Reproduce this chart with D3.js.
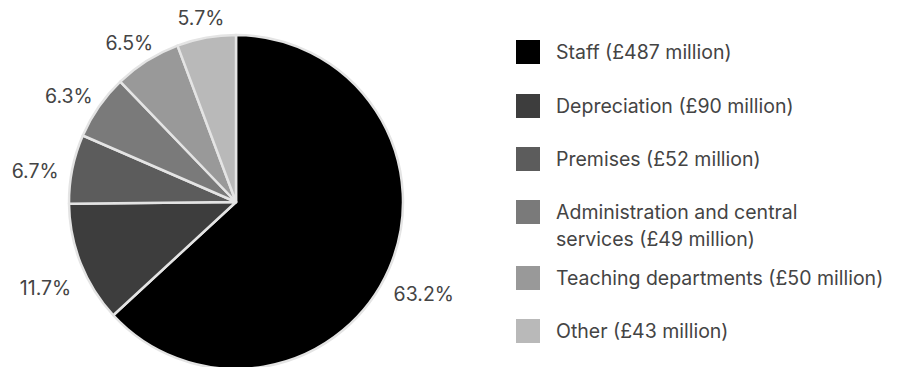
<!DOCTYPE html>
<html>
<head>
<meta charset="utf-8">
<script src="https://cdn.jsdelivr.net/npm/d3@7"></script>
<style>
  body { margin: 0; background: #fff; }
  text { font-family: Inter, "Liberation Sans", sans-serif; fill: #444; }
</style>
</head>
<body>
<svg id="chart" width="905" height="367"></svg>
<script>
  // data
  const categories = ["Staff", "Depreciation", "Premises", "Administration and central services", "Teaching departments", "Other"];
  const legendLines = [
    ["Staff (£487 million)"],
    ["Depreciation (£90 million)"],
    ["Premises (£52 million)"],
    ["Administration and central", "services (£49 million)"],
    ["Teaching departments (£50 million)"],
    ["Other (£43 million)"]
  ];
  const amounts = [487, 90, 52, 49, 50, 43];
  const percents = [63.2, 11.7, 6.7, 6.3, 6.5, 5.7];
  const colors = ["#000000", "#3d3d3d", "#5c5c5c", "#7a7a7a", "#999999", "#b9b9b9"];

  const svg = d3.select("#chart");
  const cx = 236, cy = 202, R = 167;

  const color = d3.scaleOrdinal().domain(categories).range(colors);

  const pie = d3.pie().sort(null).value((d, i) => percents[i]);
  const arcs = pie(categories);
  const arc = d3.arc().innerRadius(0).outerRadius(R);

  const g = svg.append("g").attr("transform", `translate(${cx},${cy})`);

  g.selectAll("path")
    .data(arcs)
    .join("path")
    .attr("d", arc)
    .attr("fill", d => color(d.data))
    .attr("stroke", "#e4e4e4")
    .attr("stroke-width", 2.5)
    .attr("stroke-linejoin", "round");

  // percentage labels outside the pie (a bit closer near the top)
  g.selectAll(".pct")
    .data(arcs)
    .join("text")
    .attr("class", "pct")
    .attr("font-size", 19.5)
    .attr("text-anchor", "middle")
    .attr("dominant-baseline", "central")
    .attr("transform", d => {
      const a = (d.startAngle + d.endAngle) / 2;
      const c = Math.cos(a);
      const r = 205 - 8 * Math.pow(Math.max(0, c), 3);
      return `translate(${r * Math.sin(a)},${-r * c + 10})`;
    })
    .text(d => percents[d.index].toFixed(1) + "%");

  // legend
  const legendY = [40, 94, 147, 200, 266, 319];
  const legend = svg.append("g").attr("transform", "translate(516,0)");

  const items = legend.selectAll("g")
    .data(categories)
    .join("g")
    .attr("transform", (d, i) => `translate(0,${legendY[i]})`);

  items.append("rect")
    .attr("width", 24)
    .attr("height", 24)
    .attr("fill", d => color(d));

  items.append("text")
    .attr("font-size", 19.5)
    .selectAll("tspan")
    .data((d, i) => legendLines[i])
    .join("tspan")
    .attr("x", 40)
    .attr("y", (d, j) => 12 + j * 27)
    .attr("dominant-baseline", "central")
    .text(d => d);
</script>
</body>
</html>
